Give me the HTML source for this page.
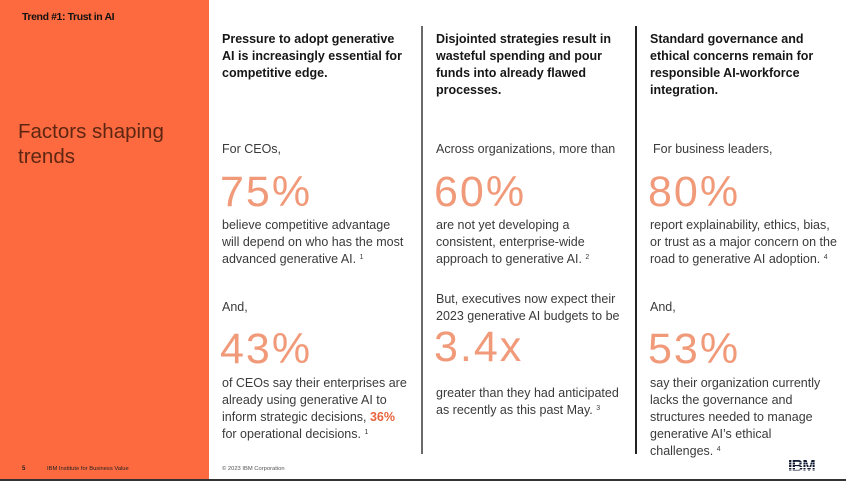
<!DOCTYPE html>
<html><head><meta charset="utf-8"><style>
*{margin:0;padding:0;box-sizing:border-box}
body{width:846px;height:481px;overflow:hidden;background:#fff;position:relative;font-family:"Liberation Sans",sans-serif;color:#333}
.abs{position:absolute;white-space:nowrap}
#panel{position:absolute;left:0;top:0;width:209px;height:479px;background:#FD6A3F}
#bar{position:absolute;left:0;top:479px;width:846px;height:2px;background:#333}
.h{font-weight:bold;font-size:12.5px;line-height:17px;color:#161616}
.t{font-size:12.5px;line-height:17px;color:#3a3a3a}
.n{font-size:43px;line-height:43px;color:#F19A7A;letter-spacing:2px}
.vl{position:absolute;width:1.5px}
sup{font-size:7px;vertical-align:4px;line-height:0}
.b{font-weight:bold;color:#E8643C}
</style></head><body>
<div id="panel"></div>
<div id="bar"></div>
<div class="abs" style="left:22px;top:11px;font-size:10.5px;font-weight:bold;color:#111;letter-spacing:-0.4px">Trend #1: Trust in AI</div>
<div class="abs" style="left:18px;top:119px;font-size:20.5px;line-height:25px;color:#5e2612">Factors shaping<br>trends</div>

<div class="vl" style="left:421px;top:26px;height:428px;background:#6a6a6a"></div>
<div class="vl" style="left:635px;top:26px;height:428px;background:#222"></div>

<!-- col1 -->
<div class="abs h" style="left:222px;top:31px">Pressure to adopt generative<br>AI is increasingly essential for<br>competitive edge.</div>
<div class="abs t" style="left:222px;top:141px">For CEOs,</div>
<div class="abs n" style="left:220px;top:171px">75%</div>
<div class="abs t" style="left:222px;top:217px">believe competitive advantage<br>will depend on who has the most<br>advanced generative AI. <sup>1</sup></div>
<div class="abs t" style="left:222px;top:299px">And,</div>
<div class="abs n" style="left:220px;top:328px">43%</div>
<div class="abs t" style="left:222px;top:375px">of CEOs say their enterprises are<br>already using generative AI to<br>inform strategic decisions, <span class="b">36%</span><br>for operational decisions. <sup>1</sup></div>

<!-- col2 -->
<div class="abs h" style="left:436px;top:31px">Disjointed strategies result in<br>wasteful spending and pour<br>funds into already flawed<br>processes.</div>
<div class="abs t" style="left:436px;top:141px">Across organizations, more than</div>
<div class="abs n" style="left:434px;top:171px">60%</div>
<div class="abs t" style="left:436px;top:217px">are not yet developing a<br>consistent, enterprise-wide<br>approach to generative AI. <sup>2</sup></div>
<div class="abs t" style="left:436px;top:291px">But, executives now expect their<br>2023 generative AI budgets to be</div>
<div class="abs n" style="left:434px;top:326px">3.4x</div>
<div class="abs t" style="left:436px;top:385px">greater than they had anticipated<br>as recently as this past May. <sup>3</sup></div>

<!-- col3 -->
<div class="abs h" style="left:650px;top:31px">Standard governance and<br>ethical concerns remain for<br>responsible AI-workforce<br>integration.</div>
<div class="abs t" style="left:653px;top:141px">For business leaders,</div>
<div class="abs n" style="left:648px;top:171px">80%</div>
<div class="abs t" style="left:650px;top:217px">report explainability, ethics, bias,<br>or trust as a major concern on the<br>road to generative AI adoption. <sup>4</sup></div>
<div class="abs t" style="left:650px;top:299px">And,</div>
<div class="abs n" style="left:648px;top:328px">53%</div>
<div class="abs t" style="left:650px;top:375px">say their organization currently<br>lacks the governance and<br>structures needed to manage<br>generative AI’s ethical<br>challenges. <sup>4</sup></div>

<!-- footer -->
<div class="abs" style="left:22px;top:466px;font-size:6px;font-weight:bold;color:#222">5</div>
<div class="abs" style="left:47px;top:466px;font-size:5.8px;color:#222">IBM Institute for Business Value</div>
<div class="abs" style="left:222px;top:466px;font-size:5.8px;color:#555">© 2023 IBM Corporation</div>
<div class="abs" style="left:788px;top:459px;font-size:16px;line-height:16px;font-weight:bold;color:#111a33;letter-spacing:-0.8px">IBM</div>
<div class="abs" style="left:786px;top:460px;width:34px;height:15px;background:repeating-linear-gradient(to bottom,transparent 0,transparent 1.8px,#fff 1.8px,#fff 2.6px)"></div>
</body></html>
